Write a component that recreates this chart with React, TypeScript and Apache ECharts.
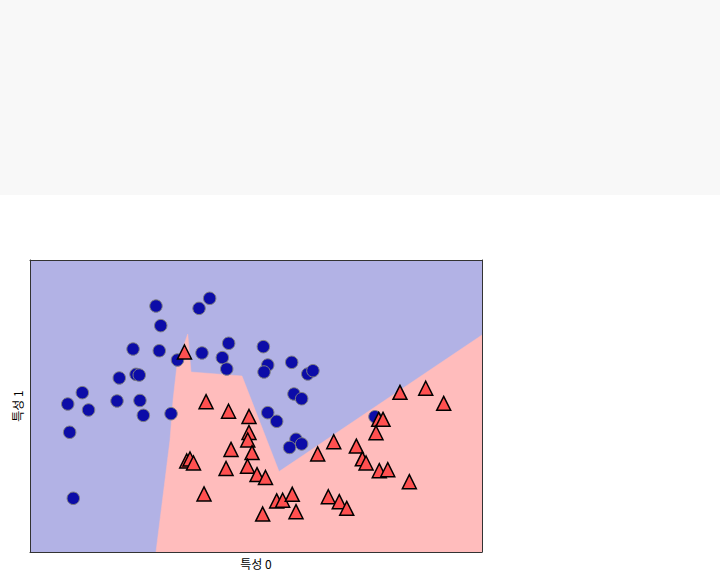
import React, { useEffect, useRef } from "react";
import * as echarts from "echarts";

// class 0 (circles) training points: [feature 0, feature 1]
const class0Points: number[][] = [
  [-0.385, 1.106], [0.09, 1.172], [-0.004, 1.086], [-0.343, 0.938],
  [-0.588, 0.738], [-0.356, 0.723], [-0.195, 0.644], [0.022, 0.704],
  [0.258, 0.787], [0.202, 0.664], [0.241, 0.567], [-0.562, 0.521],
  [-0.533, 0.515], [-0.71, 0.49], [-1.037, 0.364], [-1.166, 0.267],
  [-0.982, 0.216], [-0.73, 0.293], [-0.527, 0.297], [-0.497, 0.17],
  [-0.252, 0.184], [-1.149, 0.025], [-1.117, -0.54], [0.565, 0.758],
  [0.604, 0.601], [0.571, 0.541], [0.816, 0.624], [0.958, 0.524],
  [1.004, 0.552], [0.836, 0.353], [0.904, 0.312], [0.604, 0.193],
  [0.683, 0.119], [0.854, -0.035], [0.904, -0.075], [0.797, -0.105],
  [1.553, 0.158],
];

// class 1 (triangles) training points
const class1Points: number[][] = [
  [-0.133, 0.712], [0.058, 0.287], [0.257, 0.205], [0.438, 0.16],
  [0.438, 0.023], [0.427, -0.041], [0.279, -0.122], [0.465, -0.149],
  [0.235, -0.285], [0.425, -0.266], [0.509, -0.337], [-0.113, -0.221],
  [-0.084, -0.204], [-0.053, -0.238], [0.04, -0.503], [0.584, -0.362],
  [0.683, -0.563], [0.736, -0.557], [0.821, -0.506], [0.854, -0.655],
  [0.559, -0.675], [1.14, -0.527], [1.237, -0.569], [1.303, -0.626],
  [1.188, -0.056], [1.388, -0.093], [1.046, -0.161], [1.441, -0.202],
  [1.474, -0.238], [1.591, -0.304], [1.666, -0.295], [1.857, -0.398],
  [1.774, 0.367], [2.002, 0.402], [2.161, 0.273], [1.586, 0.136],
  [1.624, 0.136], [1.562, 0.021],
];

// decision region of class 1 (polygon vertices in data units)
const class1Region: number[][] = [
  [-0.385, -1.0], [-0.261, -0.041], [-0.234, 0.301], [-0.199, 0.601],
  [-0.104, 0.866], [-0.075, 0.541], [0.376, 0.507], [0.704, -0.311],
  [2.5, 0.858], [2.5, -1.0],
];

const xRange = [-1.5, 2.5];
const yRange = [-1.0, 1.5];
const xName = "특성 0";
const yName = "특성 1";

const FONT = '"Noto Sans CJK KR", "Noto Sans", sans-serif';

export default function App() {
  const ref = useRef<HTMLDivElement>(null);

  useEffect(() => {
    if (!ref.current) return;
    const chart = echarts.init(ref.current, null, { renderer: "svg" });

    const fullRegion = [
      [xRange[0], yRange[0]],
      [xRange[1], yRange[0]],
      [xRange[1], yRange[1]],
      [xRange[0], yRange[1]],
    ];

    const polygonSeries = (pts: number[][], color: string, z: number) => ({
      type: "custom",
      z,
      silent: true,
      clip: true,
      data: [0],
      renderItem: (_params: any, api: any) => ({
        type: "polygon",
        shape: { points: pts.map((p) => api.coord(p)) },
        style: { fill: color, stroke: color, lineWidth: 0.5 },
      }),
    });

    const axisLineStyle = { show: true, onZero: false, lineStyle: { color: "#333", width: 1 } };
    const hidden = {
      z: 10,
      axisTick: { show: false },
      axisLabel: { show: false },
      splitLine: { show: false },
    };
    const nameStyle = { fontFamily: FONT, fontSize: 12, color: "#000" };

    chart.setOption({
      animation: false,
      backgroundColor: "transparent",
      grid: { left: 30, right: 238, top: 65, bottom: 29 },
      xAxis: [
        {
          type: "value",
          min: xRange[0],
          max: xRange[1],
          position: "bottom",
          axisLine: axisLineStyle,
          ...hidden,
          name: xName,
          nameLocation: "middle",
          nameGap: 5,
          nameTextStyle: nameStyle,
        },
        {
          type: "value",
          min: xRange[0],
          max: xRange[1],
          position: "top",
          axisLine: axisLineStyle,
          ...hidden,
        },
      ],
      yAxis: [
        {
          type: "value",
          min: yRange[0],
          max: yRange[1],
          position: "left",
          axisLine: axisLineStyle,
          ...hidden,
          name: yName,
          nameLocation: "middle",
          nameGap: 7,
          nameTextStyle: nameStyle,
        },
        {
          type: "value",
          min: yRange[0],
          max: yRange[1],
          position: "right",
          axisLine: axisLineStyle,
          ...hidden,
        },
      ],
      series: [
        polygonSeries(fullRegion, "#b2b2e5", 1),
        polygonSeries(class1Region, "#ffbcbc", 2),
        {
          type: "scatter",
          z: 3,
          data: class0Points,
          symbol: "circle",
          symbolSize: 12.5,
          itemStyle: { color: "#0c0ca8", borderColor: "#808080", borderWidth: 1, opacity: 1 },
        },
        {
          type: "scatter",
          z: 4,
          data: class1Points,
          symbol: "triangle",
          symbolSize: 14,
          itemStyle: { color: "#ff5050", borderColor: "#000", borderWidth: 1.5, opacity: 1 },
        },
      ],
    });

    return () => chart.dispose();
  }, []);

  return (
    <div
      style={{
        position: "fixed",
        left: 0,
        top: 0,
        width: 720,
        height: 581,
        background: "#fff",
      }}
    >
      <div style={{ width: 720, height: 195, background: "#f8f8f8" }} />
      <div ref={ref} style={{ width: 720, height: 386 }} />
    </div>
  );
}
